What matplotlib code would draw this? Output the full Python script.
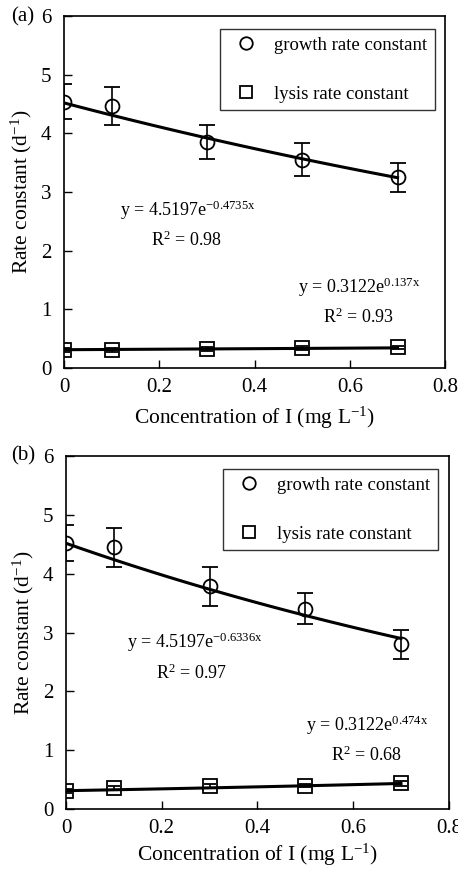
import matplotlib.pyplot as plt
import numpy as np
from matplotlib.lines import Line2D

plt.rcParams['font.family'] = ['Liberation Serif', 'DejaVu Serif']
plt.rcParams['mathtext.fontset'] = 'custom'
plt.rcParams['mathtext.rm'] = 'Liberation Serif'
plt.rcParams['mathtext.it'] = 'Liberation Serif'

# concentrations
conc = [0.0, 0.1, 0.3, 0.5, 0.7]

# panel (a)
growth_a = [4.54, 4.47, 3.86, 3.55, 3.25]
growth_a_err = [0.30, 0.32, 0.29, 0.28, 0.25]
lysis_a = [0.31, 0.31, 0.32, 0.34, 0.35]
lysis_a_err = [0.03, 0.03, 0.03, 0.03, 0.03]
fit_a = [(4.5197, -0.4735), (0.3122, 0.137)]

# panel (b)
growth_b = [4.52, 4.45, 3.79, 3.41, 2.80]
growth_b_err = [0.31, 0.33, 0.33, 0.27, 0.25]
lysis_b = [0.31, 0.36, 0.39, 0.40, 0.44]
lysis_b_err = [0.03, 0.04, 0.03, 0.03, 0.04]
fit_b = [(4.5197, -0.6336), (0.3122, 0.474)]

fig = plt.figure(figsize=(4.58, 8.69), dpi=100)
ax_a = fig.add_axes([0.140, 0.5765, 0.832, 0.405])
ax_b = fig.add_axes([0.144, 0.069, 0.836, 0.406])


def draw(ax, growth, gerr, lysis, lerr, fits, texts, xlabelpad):
    xs = np.linspace(0, 0.7, 100)
    for a, b in fits:
        ax.plot(xs, a * np.exp(b * xs), color='black', lw=2.2, zorder=2)
    ax.errorbar(conc, growth, yerr=gerr, fmt='o', ms=10, mfc='none', mec='black',
                mew=1.3, ecolor='black', elinewidth=1.2, capsize=6, capthick=1.2, zorder=3)
    ax.errorbar(conc, lysis, yerr=lerr, fmt='s', ms=10, mfc='none', mec='black',
                mew=1.3, ecolor='black', elinewidth=1.2, capsize=4, capthick=1.2, zorder=3)
    ax.set_xlim(0, 0.8)
    ax.set_ylim(0, 6)
    ax.set_xticks([0, 0.2, 0.4, 0.6, 0.8])
    ax.set_xticklabels(['0', '0.2', '0.4', '0.6', '0.8'])
    ax.set_yticks(range(7))
    ax.tick_params(direction='in', length=6, labelsize=15, width=1, top=False, right=False)
    ax.tick_params(axis='x', pad=7)
    ax.tick_params(axis='y', pad=9)
    for s in ax.spines.values():
        s.set_linewidth(1.2)
    ax.set_xlabel('Concentration of I (mg L$^{\\mathregular{-1}}$)', fontsize=15.5, labelpad=xlabelpad)
    ax.set_ylabel('Rate constant (d$^{\\mathregular{-1}}$)', fontsize=15.5, labelpad=5)
    handles = [Line2D([], [], ls='none', marker='o', ms=9, mfc='none', mec='black', mew=1.3),
               Line2D([], [], ls='none', marker='s', ms=9, mfc='none', mec='black', mew=1.3)]
    leg = ax.legend(handles, ['growth rate constant', 'lysis rate constant'],
                    loc='upper right', fontsize=13.5, frameon=True, fancybox=False,
                    edgecolor='black', handletextpad=0.5, borderpad=0.4,
                    borderaxespad=0, labelspacing=1.7, handlelength=2.0,
                    bbox_to_anchor=(0.972, 0.963))
    leg.get_frame().set_linewidth(1.0)
    for x, y, t in texts:
        ax.text(x, y, t, fontsize=13, va='center')


draw(ax_a, growth_a, growth_a_err, lysis_a, lysis_a_err, fit_a,
     [(0.118, 2.69, 'y = 4.5197e$^{\\mathregular{-0.4735x}}$'),
      (0.183, 2.18, 'R$^{\\mathregular{2}}$ = 0.98'),
      (0.491, 1.38, 'y = 0.3122e$^{\\mathregular{0.137x}}$'),
      (0.544, 0.87, 'R$^{\\mathregular{2}}$ = 0.93')], 6)
draw(ax_b, growth_b, growth_b_err, lysis_b, lysis_b_err, fit_b,
     [(0.127, 2.84, 'y = 4.5197e$^{\\mathregular{-0.6336x}}$'),
      (0.188, 2.31, 'R$^{\\mathregular{2}}$ = 0.97'),
      (0.501, 1.43, 'y = 0.3122e$^{\\mathregular{0.474x}}$'),
      (0.553, 0.92, 'R$^{\\mathregular{2}}$ = 0.68')], 3)

fig.text(0.025, 0.981, '(a)', fontsize=15, va='center')
fig.text(0.025, 0.475, '(b)', fontsize=15, va='center')

plt.savefig('out.png', dpi=100)
